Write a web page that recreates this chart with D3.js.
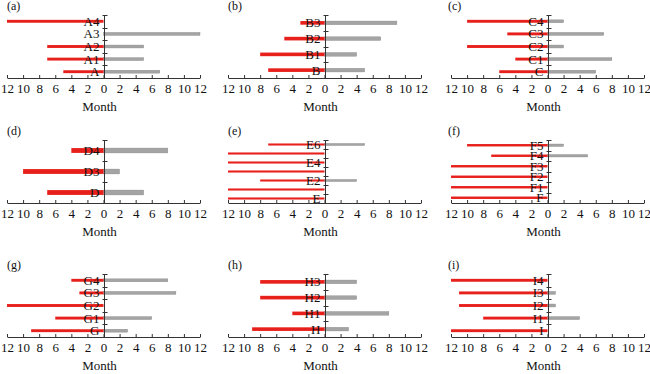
<!DOCTYPE html>
<html>
<head>
<meta charset="utf-8">
<script src="https://cdn.jsdelivr.net/npm/d3@7"></script>
<style>
  body { margin: 0; background: #fff; }
  text { font-family: "Liberation Serif", "Times New Roman", serif; fill: #111; }
</style>
</head>
<body>
<div id="chart"></div>
<script>
// --- data: one set of arrays per panel (bottom category first) ---
const catsA = ["A", "A1", "A2", "A3", "A4"];
const leftA = [5, 7, 7, 0, 12];
const rightA = [7, 5, 5, 12, 0];

const catsB = ["B", "B1", "B2", "B3"];
const leftB = [7, 8, 5, 3];
const rightB = [5, 4, 7, 9];

const catsC = ["C", "C1", "C2", "C3", "C4"];
const leftC = [6, 4, 10, 5, 10];
const rightC = [6, 8, 2, 7, 2];

const catsD = ["D", "D3", "D4"];
const leftD = [7, 10, 4];
const rightD = [5, 2, 8];

const catsE = ["E", "E1", "E2", "E3", "E4", "E5", "E6"];
const leftE = [12, 12, 8, 12, 12, 12, 7];
const rightE = [0, 0, 4, 0, 0, 0, 5];
const hiddenLabels = ["E1", "E3", "E5"];

const catsF = ["F", "F1", "F2", "F3", "F4", "F5"];
const leftF = [12, 12, 12, 12, 7, 10];
const rightF = [0, 0, 0, 0, 5, 2];

const catsG = ["G", "G1", "G2", "G3", "G4"];
const leftG = [9, 6, 12, 3, 4];
const rightG = [3, 6, 0, 9, 8];

const catsH = ["H", "H1", "H2", "H3"];
const leftH = [9, 4, 8, 8];
const rightH = [3, 8, 4, 4];

const catsI = ["I", "I1", "I2", "I3", "I4"];
const leftI = [12, 8, 11, 11, 12];
const rightI = [0, 4, 1, 1, 0];

const panelLabels = ["(a)", "(b)", "(c)", "(d)", "(e)", "(f)", "(g)", "(h)", "(i)"];
const xTicks = [-12, -10, -8, -6, -4, -2, 0, 2, 4, 6, 8, 10, 12];
const xLabel = "Month";

const panels = [
  [catsA, leftA, rightA], [catsB, leftB, rightB], [catsC, leftC, rightC],
  [catsD, leftD, rightD], [catsE, leftE, rightE], [catsF, leftF, rightF],
  [catsG, leftG, rightG], [catsH, leftH, rightH], [catsI, leftI, rightI]
];

// --- layout ---
const width = 650, height = 374;
const colLeft = [7, 228, 451];
const rowTop = [15, 140, 274];
const plotW = 193, plotH = 63;
const red = "#e8201c", gray = "#a4a4a4", axisColor = "#333";

const svg = d3.select("#chart").append("svg")
  .attr("width", width)
  .attr("height", height);

panels.forEach(([cats, left, right], i) => {
  const g = svg.append("g")
    .attr("transform", `translate(${colLeft[i % 3]},${rowTop[Math.floor(i / 3)]})`);

  const x = d3.scaleLinear().domain([-12, 12]).range([0, plotW]);
  const y = d3.scaleBand().domain(cats.slice().reverse()).range([0, plotH]);
  const bh = y.bandwidth() * 0.23;
  const rows = cats.map((c, k) => ({ c, l: left[k], r: right[k] }));

  // bars
  g.append("g").selectAll("rect")
    .data(rows.filter(d => d.r > 0))
    .join("rect")
    .attr("x", x(0))
    .attr("width", d => x(d.r) - x(0))
    .attr("y", d => y(d.c) + y.bandwidth() / 2 - bh / 2)
    .attr("height", bh)
    .attr("fill", gray)
    .attr("stroke", "#888")
    .attr("stroke-width", 0.4);

  g.append("g").selectAll("rect")
    .data(rows.filter(d => d.l > 0))
    .join("rect")
    .attr("x", d => x(-d.l))
    .attr("width", d => x(0) - x(-d.l))
    .attr("y", d => y(d.c) + y.bandwidth() / 2 - bh / 2)
    .attr("height", bh)
    .attr("fill", red);

  // x axis
  const xa = g.append("g")
    .attr("transform", `translate(0,${plotH})`)
    .call(d3.axisBottom(x).tickValues(xTicks).tickSize(-3).tickSizeOuter(0)
      .tickPadding(6).tickFormat(d => Math.abs(d)));
  xa.selectAll("path, line").attr("stroke", axisColor);
  xa.selectAll("text")
    .style("font-family", "Liberation Serif, serif")
    .attr("font-size", 13).attr("fill", "#111");

  // y axis at zero
  const x0 = Math.round(x(0)) + 0.5;
  g.append("line")
    .attr("x1", x0).attr("x2", x0)
    .attr("y1", 0).attr("y2", plotH)
    .attr("stroke", axisColor);
  g.append("g").selectAll("line")
    .data(d3.range(cats.length).map(k => k * y.step()))
    .join("line")
    .attr("x1", x0 - 2).attr("x2", x0 + 3)
    .attr("y1", d => Math.round(d) + 0.5).attr("y2", d => Math.round(d) + 0.5)
    .attr("stroke", axisColor);

  // category labels
  g.append("g").selectAll("text")
    .data(cats.filter(c => !hiddenLabels.includes(c)))
    .join("text")
    .attr("x", x(0) - 4)
    .attr("y", d => y(d) + y.bandwidth() / 2)
    .attr("dy", "0.35em")
    .attr("text-anchor", "end")
    .attr("font-size", 13)
    .text(d => d);

  g.append("text")
    .attr("x", x(0) - 4)
    .attr("y", plotH + 33)
    .attr("text-anchor", "middle")
    .attr("font-size", 13)
    .text(xLabel);

  g.append("text")
    .attr("x", i % 3 === 2 ? -3 : 0)
    .attr("y", -5)
    .attr("font-size", 12)
    .text(panelLabels[i]);
});
</script>
</body>
</html>
